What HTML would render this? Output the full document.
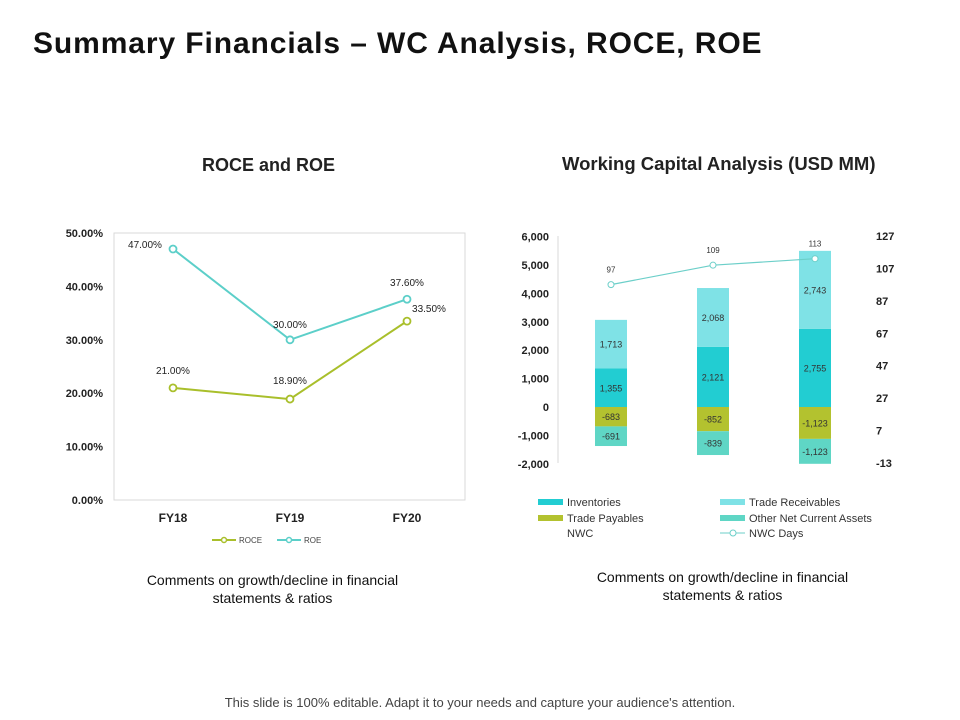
<!DOCTYPE html>
<html><head><meta charset="utf-8"><style>
body{margin:0;width:960px;height:720px;background:#fff;font-family:"Liberation Sans",sans-serif;overflow:hidden;position:relative}
.t{position:absolute;white-space:nowrap}
</style></head><body>
<div class="t" style="left:33px;top:27px;font-size:30px;letter-spacing:0.9px;font-weight:bold;color:#111">Summary Financials – WC Analysis, ROCE, ROE</div>
<div class="t" style="left:202px;top:155px;font-size:18px;font-weight:bold;color:#222">ROCE and ROE</div>
<div class="t" style="left:562px;top:153px;font-size:18.5px;font-weight:bold;color:#222">Working Capital Analysis (USD MM)</div>
<div class="t" style="left:120px;top:571px;width:305px;text-align:center;white-space:normal;font-size:14px;color:#111;line-height:18px">Comments on growth/decline in financial statements &amp; ratios</div>
<div class="t" style="left:570px;top:568px;width:305px;text-align:center;white-space:normal;font-size:14px;color:#111;line-height:18px">Comments on growth/decline in financial statements &amp; ratios</div>
<div class="t" style="left:0;width:960px;text-align:center;top:695px;font-size:13px;color:#444">This slide is 100% editable. Adapt it to your needs and capture your audience's attention.</div>
<svg width="960" height="720" style="position:absolute;left:0;top:0" font-family="Liberation Sans, sans-serif">
<g id="left"></g>
<g id="right"></g>
</svg>
<script>
const years=['FY18','FY19','FY20'];
const roce=[21.0,18.9,33.5];
const roe=[47.0,30.0,37.6];
const pctTicks=[0,10,20,30,40,50];
const inventories=[1355,2121,2755];
const receivables=[1713,2068,2743];
const payables=[-683,-852,-1123];
const otherNca=[-691,-839,-1123];
const nwcDays=[97,109,113];
const leftTicks=[-2000,-1000,0,1000,2000,3000,4000,5000,6000];
const rightTicks=[-13,7,27,47,67,87,107,127];
const NS='http://www.w3.org/2000/svg';
function mk(p,tag,at,txt){const e=document.createElementNS(NS,tag);for(const k in at)e.setAttribute(k,at[k]);if(txt!=null)e.textContent=txt;p.appendChild(e);return e;}
const fmt=v=>(v<0?'-':'')+Math.abs(v).toLocaleString('en-US');
// Left chart
const L=document.getElementById('left');
const lx=i=>173+i*117, ly=v=>500-v/50*267;
let e=mk(L,'rect',{x:114,y:233,width:351,height:267,fill:'none',stroke:'#d9d9d9'});

pctTicks.forEach(t=>{e=mk(L,'text',{x:103,y:ly(t)+4,'text-anchor':'end','font-size':11,'font-weight':'bold',fill:'#222'},t.toFixed(2)+'%');
});
years.forEach((y,i)=>{e=mk(L,'text',{x:lx(i),y:522,'text-anchor':'middle','font-size':12,'font-weight':'bold',fill:'#222'},y);
});
function series(arr,col,name,offs){
 e=mk(L,'polyline',{points:arr.map((v,i)=>lx(i)+','+ly(v)).join(' '),fill:'none',stroke:col,'stroke-width':2});
 
 arr.forEach((v,i)=>{e=mk(L,'circle',{cx:lx(i),cy:ly(v),r:3.5,fill:'#fff',stroke:col,'stroke-width':1.8});
 
 e=mk(L,'text',{x:lx(i)+offs[i][0],y:ly(v)+offs[i][1],'text-anchor':'middle','font-size':10,fill:'#222'},v.toFixed(2)+'%');
 });
}
series(roce,'#a9bf2b','roce',[[0,-14],[0,-15],[22,-9]]);
series(roe,'#5ccfc9','roe',[[-28,-1],[0,-12],[0,-13]]);
[['ROCE','#a9bf2b',212],['ROE','#5ccfc9',277]].forEach(([n,c,x])=>{
 e=mk(L,'line',{x1:x,y1:540,x2:x+24,y2:540,stroke:c,'stroke-width':2});
 mk(L,'circle',{cx:x+12,cy:540,r:2.5,fill:'#fff',stroke:c,'stroke-width':1.5});
 e=mk(L,'text',{x:x+27,y:543,'font-size':8,fill:'#444'},n);});
// Right chart
const R=document.getElementById('right');
const clampV=v=>Math.max(-2000,Math.min(6000,v));
const rx=i=>611+i*102, ry=v=>407-clampV(v)*0.0284, ry2=v=>236+(127-v)/140*227;
e=mk(R,'line',{x1:558,y1:236,x2:558,y2:463,stroke:'#d9d9d9'});
leftTicks.forEach(t=>{e=mk(R,'text',{x:549,y:ry(t)+4,'text-anchor':'end','font-size':11,'font-weight':'bold',fill:'#222'},fmt(t));
});
rightTicks.forEach(t=>{e=mk(R,'text',{x:876,y:ry2(t)+4,'font-size':11,'font-weight':'bold',fill:'#222'},t);
});
const W=32;
years.forEach((y,i)=>{
 const segs=[[0,inventories[i],'#22cdd2','inventories'],[inventories[i],inventories[i]+receivables[i],'#7fe2e6','receivables'],[0,payables[i],'#b3c22f','payables'],[payables[i],payables[i]+otherNca[i],'#5fd6c5','other-nca']];
 segs.forEach(([a,b,c,n])=>{const v=b-a;
  e=mk(R,'rect',{x:rx(i)-W/2,y:Math.min(ry(a),ry(b)),width:W,height:Math.abs(ry(b)-ry(a)),fill:c});
  
  e=mk(R,'text',{x:rx(i),y:(ry(a)+ry(b))/2+3.5,'text-anchor':'middle','font-size':9,fill:'#333'},fmt(v));
  });
});
e=mk(R,'polyline',{points:nwcDays.map((v,i)=>rx(i)+','+ry2(v)).join(' '),fill:'none',stroke:'#6ccfc9','stroke-width':1.2});

nwcDays.forEach((v,i)=>{e=mk(R,'circle',{cx:rx(i),cy:ry2(v),r:3,fill:'#fff',stroke:'#6ccfc9','stroke-width':1});
 
 e=mk(R,'text',{x:rx(i),y:ry2(v)-12,'text-anchor':'middle','font-size':8,fill:'#333'},v);
 });
const leg=[['Inventories','#22cdd2',538,502],['Trade Receivables','#7fe2e6',720,502],['Trade Payables','#b3c22f',538,518],['Other Net Current Assets','#5fd6c5',720,518]];
leg.forEach(([n,c,x,y])=>{e=mk(R,'rect',{x:x,y:y-3,width:25,height:6,fill:c});
 e=mk(R,'text',{x:x+29,y:y+4,'font-size':11,fill:'#333'},n);});
e=mk(R,'text',{x:567,y:537,'font-size':11,fill:'#333'},'NWC');
mk(R,'line',{x1:720,y1:533,x2:745,y2:533,stroke:'#6ccfc9'});
mk(R,'circle',{cx:733,cy:533,r:3,fill:'#fff',stroke:'#6ccfc9'});
e=mk(R,'text',{x:749,y:537,'font-size':11,fill:'#333'},'NWC Days');
</script>
</body></html>
